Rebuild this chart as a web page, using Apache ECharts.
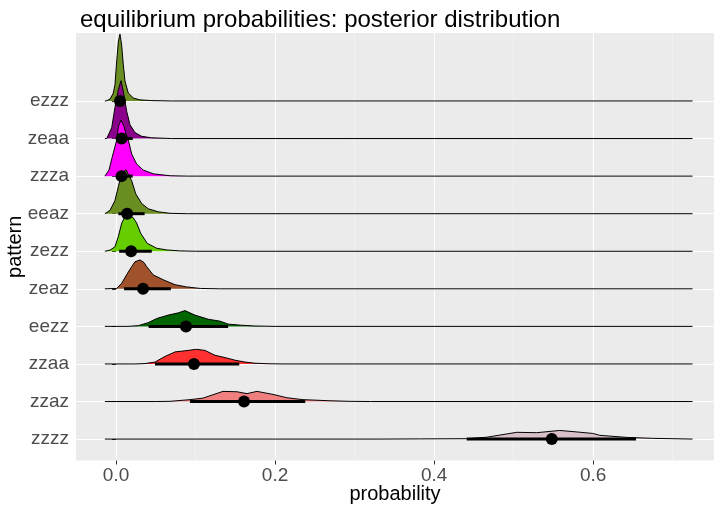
<!DOCTYPE html>
<html>
<head>
<meta charset="utf-8">
<script src="https://cdn.jsdelivr.net/npm/echarts@6/dist/echarts.min.js"></script>
<style>
  html, body { margin: 0; padding: 0; background: #fff; }
  #chart { width: 719px; height: 507px; }
</style>
</head>
<body>
<div id="chart"></div>
<script>
// categories listed top to bottom
const categories = ["ezzz", "zeaa", "zzza", "eeaz", "zezz", "zeaz", "eezz", "zzaa", "zzaz", "zzzz"];
const medians = [0.005, 0.007, 0.007, 0.014, 0.019, 0.034, 0.088, 0.098, 0.161, 0.548];
const lower = [0.000, 0.001, 0.000, 0.003, 0.004, 0.010, 0.041, 0.049, 0.093, 0.441];
const upper = [0.012, 0.021, 0.021, 0.036, 0.045, 0.069, 0.141, 0.155, 0.238, 0.654];
const fills = ["#6B8E23", "#8B008B", "#FF00FF", "#6B8E23", "#66CD00", "#A0522D", "#006400", "#FF3030", "#F08080", "#D8BFC8"];

// density curves: [probability, height in row units]
const dens_ezzz = [[-0.014, 0], [-0.0125, 0], [-0.0075, 0.05], [-0.0034, 0.21], [-0.0013, 0.43], [0.0008, 1.04], [0.0029, 1.57], [0.005, 1.78], [0.0071, 1.49], [0.0092, 0.96], [0.0113, 0.53], [0.0155, 0.21], [0.0218, 0.08], [0.030, 0.03], [0.045, 0.01], [0.07, 0], [0.725, 0]];
const dens_zeaa = [[-0.014, 0], [-0.0117, 0], [-0.0054, 0.29], [-0.0013, 0.83], [0.0029, 1.30], [0.0063, 1.54], [0.0092, 1.25], [0.0135, 0.72], [0.0176, 0.37], [0.0239, 0.16], [0.0323, 0.06], [0.0449, 0.02], [0.07, 0], [0.725, 0]];
const dens_zzza = [[-0.014, 0], [-0.0088, 0.16], [-0.0047, 0.51], [0.0009, 0.96], [0.0031, 1.33], [0.0063, 1.49], [0.010, 1.33], [0.0126, 1.12], [0.0155, 0.96], [0.0197, 0.59], [0.026, 0.32], [0.0343, 0.16], [0.0469, 0.06], [0.068, 0.01], [0.09, 0], [0.725, 0]];
const dens_eeaz = [[-0.014, 0], [-0.0075, 0.09], [-0.0013, 0.35], [0.0029, 0.72], [0.0072, 1.07], [0.0126, 1.17], [0.0197, 0.88], [0.0248, 0.53], [0.0323, 0.27], [0.0406, 0.13], [0.0532, 0.05], [0.068, 0.01], [0.09, 0], [0.725, 0]];
const dens_zezz = [[-0.014, 0], [-0.0075, 0.03], [-0.0013, 0.12], [0.0029, 0.39], [0.0072, 0.75], [0.0113, 0.92], [0.0163, 0.93], [0.0214, 0.90], [0.026, 0.75], [0.031, 0.48], [0.0393, 0.21], [0.0512, 0.08], [0.0637, 0.035], [0.08, 0.01], [0.1, 0], [0.725, 0]];
const dens_zeaz = [[-0.014, 0], [0.0009, 0.01], [0.0072, 0.15], [0.0147, 0.42], [0.0197, 0.59], [0.0239, 0.72], [0.0302, 0.77], [0.0352, 0.70], [0.0386, 0.59], [0.0469, 0.37], [0.0595, 0.24], [0.0742, 0.11], [0.0889, 0.05], [0.106, 0.01], [0.13, 0], [0.725, 0]];
const dens_eezz = [[-0.014, 0], [0.015, 0], [0.028, 0.02], [0.0406, 0.10], [0.0512, 0.21], [0.0657, 0.30], [0.0783, 0.36], [0.0867, 0.42], [0.0993, 0.30], [0.116, 0.19], [0.1307, 0.14], [0.1412, 0.06], [0.158, 0.03], [0.1747, 0.01], [0.2, 0], [0.725, 0]];
const dens_zzaa = [[-0.014, 0], [0.025, 0], [0.0365, 0.01], [0.049, 0.05], [0.0616, 0.20], [0.0742, 0.32], [0.0867, 0.35], [0.1014, 0.39], [0.1119, 0.36], [0.1245, 0.23], [0.137, 0.17], [0.1496, 0.10], [0.1622, 0.05], [0.1747, 0.02], [0.191, 0.005], [0.21, 0], [0.725, 0]];
const dens_zzaz = [[-0.014, 0], [0.05, 0], [0.0679, 0.005], [0.093, 0.05], [0.1094, 0.09], [0.1345, 0.27], [0.1521, 0.26], [0.1647, 0.21], [0.1772, 0.27], [0.1974, 0.19], [0.215, 0.10], [0.2351, 0.05], [0.269, 0.02], [0.294, 0.005], [0.32, 0], [0.725, 0]];
const dens_zzzz = [[-0.014, 0], [0.332, 0], [0.382, 0.005], [0.441, 0.01], [0.4664, 0.05], [0.504, 0.18], [0.529, 0.17], [0.558, 0.23], [0.5795, 0.19], [0.5996, 0.15], [0.6084, 0.10], [0.6424, 0.045], [0.675, 0.02], [0.725, 0]];

const densities = [dens_ezzz, dens_zeaa, dens_zzza, dens_eeaz, dens_zezz, dens_zeaz, dens_eezz, dens_zzaa, dens_zzaz, dens_zzzz];
const xTicks = [0, 0.2, 0.4, 0.6];
const xMinorTicks = [0.1, 0.3, 0.5, 0.7];

const font = "Liberation Sans";
const rowOf = i => categories.length - i;
const rows = categories.map((c, i) => rowOf(i));

function renderRidge(params, api) {
  const i = api.value(0);
  const row = rowOf(i);
  const d = densities[i];
  const top = d.map(p => api.coord([p[0], row + p[1]]));
  const full = top.concat([api.coord([d[d.length - 1][0], row]), api.coord([d[0][0], row])]);
  return {
    type: "group",
    children: [
      { type: "polygon", shape: { points: full }, style: { fill: fills[i] } },
      { type: "polyline", shape: { points: top }, style: { stroke: "#000", lineWidth: 1, fill: null } }
    ]
  };
}

function renderInterval(params, api) {
  const i = api.value(0);
  const a = api.coord([lower[i], rowOf(i)]);
  const b = api.coord([upper[i], rowOf(i)]);
  return {
    type: "line",
    shape: { x1: a[0], y1: a[1], x2: b[0], y2: b[1] },
    style: { stroke: "#000", lineWidth: 3 }
  };
}

const chart = echarts.init(document.getElementById("chart"));
const itemData = categories.map((c, i) => [i, medians[i], rowOf(i)]);

chart.setOption({
  animation: false,
  title: {
    text: "equilibrium probabilities: posterior distribution",
    left: 75, top: 3,
    textStyle: { fontFamily: font, fontSize: 24, fontWeight: "normal", color: "#000" }
  },
  grid: {
    left: 76, right: 5, top: 33, bottom: 46.5,
    outerBoundsMode: "none",
    show: true, backgroundColor: "#EBEBEB", borderWidth: 0
  },
  xAxis: [{
    type: "value", min: -0.0503, max: 0.752,
    axisLine: { show: false },
    axisTick: { show: true, customValues: xTicks, length: 4, lineStyle: { color: "#333", width: 1 } },
    axisLabel: { customValues: xTicks, formatter: v => v.toFixed(1), color: "#4d4d4d", fontSize: 19, fontFamily: font, margin: 6 },
    splitLine: { show: true, lineStyle: { color: "#fff", width: 1.1 } },
    name: "probability", nameLocation: "middle", nameGap: 24, nameMoveOverlap: false,
    nameTextStyle: { fontFamily: font, fontSize: 20, color: "#000" }
  }, {
    type: "value", min: -0.0503, max: 0.752, position: "bottom",
    axisLine: { show: false },
    axisTick: { show: false, customValues: xMinorTicks },
    axisLabel: { show: false, customValues: xMinorTicks },
    splitLine: { show: true, lineStyle: { color: "#F7F7F7", width: 0.6 } }
  }],
  yAxis: {
    type: "value", min: 0.43, max: 11.81,
    axisLine: { show: false },
    axisTick: { show: true, customValues: rows, length: 4, lineStyle: { color: "#333", width: 1 } },
    axisLabel: { customValues: rows, formatter: v => categories[categories.length - v], color: "#4d4d4d", fontSize: 19, fontFamily: font, margin: 7 },
    splitLine: { show: true, lineStyle: { color: "#fff", width: 1.1 } },
    name: "pattern", nameLocation: "middle", nameRotate: 90, nameGap: 51, nameMoveOverlap: false,
    nameTextStyle: { fontFamily: font, fontSize: 20, color: "#000" }
  },
  series: [{
    type: "custom", renderItem: renderRidge, data: itemData,
    encode: { x: 1, y: 2 }, z: 2
  }, {
    type: "custom", renderItem: renderInterval, data: itemData,
    encode: { x: 1, y: 2 }, z: 3
  }, {
    type: "scatter", data: itemData.map(p => [p[1], p[2]]),
    symbolSize: 12, itemStyle: { color: "#000", opacity: 1 }, z: 4
  }]
});
</script>
</body>
</html>
